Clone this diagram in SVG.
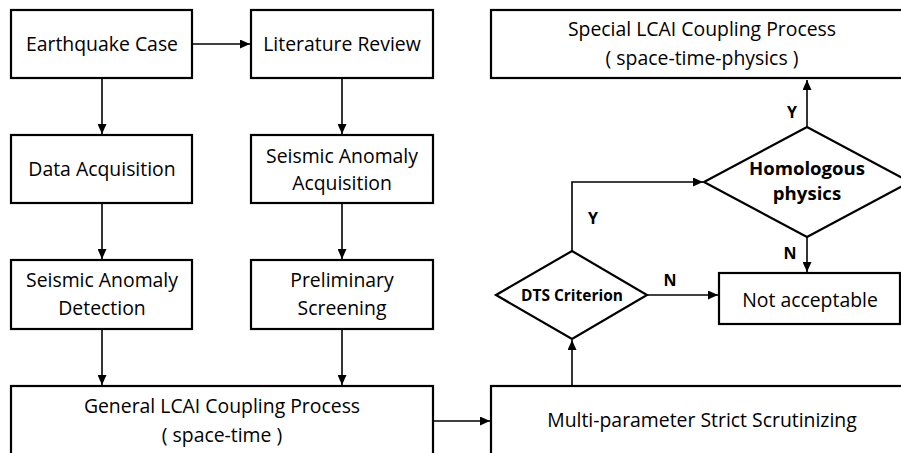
<svg xmlns="http://www.w3.org/2000/svg" width="901" height="453" viewBox="0 0 901 453">
<defs>
<marker id="ah" viewBox="0 0 10 10" refX="10" refY="5" markerWidth="10" markerHeight="9" orient="auto" markerUnits="userSpaceOnUse" preserveAspectRatio="none">
<path d="M0,0 L10,5 L0,10 Z" fill="#000"/>
</marker>
<style>
.box{fill:#fff;stroke:#000;stroke-width:2.2}
.t{font-family:"Open Sans","Noto Sans",sans-serif;font-size:19.4px;text-anchor:middle;fill:#000}
.b{font-family:"Open Sans","Noto Sans",sans-serif;font-weight:bold;text-anchor:middle;fill:#000}
.c{fill:none;stroke:#000;stroke-width:1.6;marker-end:url(#ah)}
</style>
</defs>
<g id="connectors">
<line class="c" x1="192" y1="44" x2="250" y2="44"/>
<line class="c" x1="102" y1="78" x2="102" y2="134"/>
<line class="c" x1="342" y1="78" x2="342" y2="134"/>
<line class="c" x1="102" y1="203" x2="102" y2="259"/>
<line class="c" x1="342" y1="203" x2="342" y2="259"/>
<line class="c" x1="102" y1="329" x2="102" y2="385"/>
<line class="c" x1="342" y1="329" x2="342" y2="385"/>
<line class="c" x1="433" y1="421" x2="490" y2="421"/>
<line class="c" x1="572" y1="386" x2="572" y2="340"/>
<polyline class="c" points="572,251 572,182 703,182"/>
<line class="c" x1="647" y1="295" x2="718" y2="295"/>
<line class="c" x1="807" y1="127" x2="807" y2="80"/>
<line class="c" x1="807" y1="237" x2="807" y2="272"/>
<text class="b" x="593" y="224" font-size="16">Y</text>
<text class="b" x="670" y="286" font-size="16">N</text>
<text class="b" x="792" y="118" font-size="16">Y</text>
<text class="b" x="790" y="259" font-size="16">N</text>
</g>
<g id="earthquake-case">
<rect class="box" x="11" y="10" width="181" height="68"/>
<text class="t" x="102" y="51">Earthquake Case</text>
</g>
<g id="literature-review">
<rect class="box" x="251" y="10" width="182" height="68"/>
<text class="t" x="342" y="51">Literature Review</text>
</g>
<g id="data-acquisition">
<rect class="box" x="11" y="135" width="181" height="68"/>
<text class="t" x="102" y="176">Data Acquisition</text>
</g>
<g id="seismic-anomaly-acquisition">
<rect class="box" x="251" y="135" width="182" height="68"/>
<text class="t" x="342" y="163">Seismic Anomaly</text>
<text class="t" x="342" y="190">Acquisition</text>
</g>
<g id="seismic-anomaly-detection">
<rect class="box" x="11" y="260" width="181" height="69"/>
<text class="t" x="102" y="287">Seismic Anomaly</text>
<text class="t" x="102" y="315">Detection</text>
</g>
<g id="preliminary-screening">
<rect class="box" x="251" y="260" width="182" height="69"/>
<text class="t" x="342" y="287">Preliminary</text>
<text class="t" x="342" y="315">Screening</text>
</g>
<g id="general-lcai">
<rect class="box" x="11" y="386" width="422" height="80"/>
<text class="t" x="222" y="413">General LCAI Coupling Process</text>
<text class="t" x="222" y="442">( space-time )</text>
</g>
<g id="multi-parameter">
<rect class="box" x="491" y="386" width="422" height="80"/>
<text class="t" x="702" y="427">Multi-parameter Strict Scrutinizing</text>
</g>
<g id="special-lcai">
<rect class="box" x="491" y="10" width="422" height="68"/>
<text class="t" x="702" y="36">Special LCAI Coupling Process</text>
<text class="t" x="702" y="65">( space-time-physics )</text>
</g>
<g id="dts-criterion">
<polygon class="box" points="496,295 572,251 647,295 572,339"/>
<text class="b" x="572" y="301" font-size="15.5">DTS Criterion</text>
</g>
<g id="homologous-physics">
<polygon class="box" points="704,182 807,127 910,182 807,237"/>
<text class="b" x="807" y="175" font-size="18.6">Homologous</text>
<text class="b" x="807" y="200" font-size="18.6">physics</text>
</g>
<g id="not-acceptable">
<rect class="box" x="719" y="273" width="181" height="51"/>
<text class="t" x="810" y="307">Not acceptable</text>
</g>
</svg>
